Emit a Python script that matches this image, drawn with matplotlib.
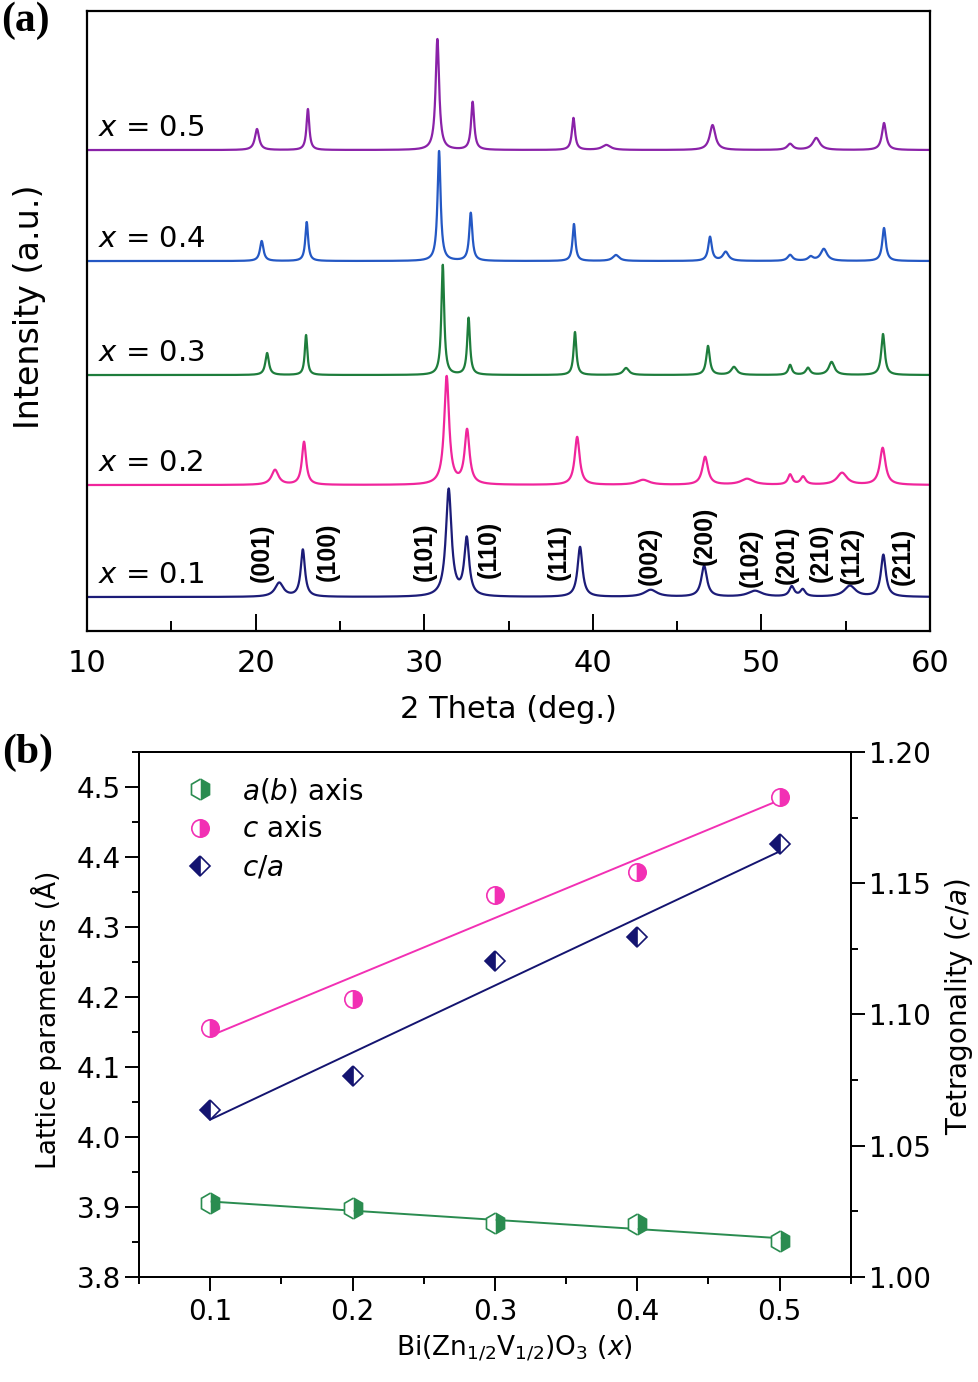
import numpy as np
import matplotlib.pyplot as plt
from matplotlib.ticker import MultipleLocator, FormatStrFormatter

plt.rcParams['font.family'] = 'DejaVu Sans'
plt.rcParams['mathtext.fontset'] = 'dejavusans'

# ---- (a) XRD peaks: 2theta, height (a.u.), FWHM (deg)
samples = ["0.1", "0.2", "0.3", "0.4", "0.5"]
offsets = [34, 146, 256, 370, 481]
colors_a = ["#1c1c78", "#f0259c", "#1e7d3c", "#2458c4", "#8a22a8"]

pos_01 = [21.4, 22.8, 31.45, 32.52, 39.24, 43.43, 46.6, 49.62, 51.8, 52.45, 55.25, 57.23]
hgt_01 = [14, 47, 107, 57, 50, 7, 31, 6, 10, 7, 11, 42]
wid_01 = [0.6, 0.3, 0.4, 0.35, 0.35, 0.9, 0.4, 1.0, 0.35, 0.35, 0.8, 0.35]

pos_02 = [21.15, 22.87, 31.33, 32.54, 39.07, 42.98, 46.66, 49.15, 51.7, 52.47, 54.78, 57.19]
hgt_02 = [15, 43, 108, 54, 48, 5, 28, 6, 10, 8, 12, 37]
wid_02 = [0.5, 0.3, 0.35, 0.35, 0.35, 0.9, 0.4, 0.9, 0.3, 0.35, 0.7, 0.4]

pos_03 = [20.68, 22.99, 31.1, 32.63, 38.94, 41.97, 46.83, 48.37, 51.7, 52.76, 54.16, 57.21]
hgt_03 = [22, 40, 110, 57, 43, 7, 29, 8, 10, 7, 13, 41]
wid_03 = [0.25, 0.18, 0.2, 0.2, 0.2, 0.4, 0.25, 0.4, 0.25, 0.3, 0.4, 0.25]

pos_04 = [20.36, 23.03, 30.88, 32.76, 38.88, 41.37, 46.95, 47.88, 51.7, 52.92, 53.7, 57.27]
hgt_04 = [20, 39, 110, 48, 37, 6, 24, 9, 6, 4, 12, 33]
wid_04 = [0.25, 0.2, 0.22, 0.22, 0.2, 0.45, 0.25, 0.4, 0.35, 0.35, 0.45, 0.25]

pos_05 = [20.08, 23.1, 30.78, 32.87, 38.85, 40.8, 47.1, 51.7, 53.25, 57.27]
hgt_05 = [21, 41, 111, 48, 32, 5, 25, 6, 12, 27]
wid_05 = [0.3, 0.2, 0.25, 0.22, 0.22, 0.6, 0.4, 0.4, 0.5, 0.3]

peaks = [(pos_01, hgt_01, wid_01), (pos_02, hgt_02, wid_02), (pos_03, hgt_03, wid_03),
         (pos_04, hgt_04, wid_04), (pos_05, hgt_05, wid_05)]

hkl = ["(001)", "(100)", "(101)", "(110)", "(111)", "(002)",
       "(200)", "(102)", "(201)", "(210)", "(112)", "(211)"]
hkl_x = [20.36, 24.3, 30.05, 33.85, 37.95, 43.4, 46.65, 49.37, 51.5, 53.5, 55.37, 58.38]
hkl_y = [78, 79, 79, 82, 79, 75, 95, 73, 76, 78, 76, 75]

# ---- (b) lattice parameters
comp = [0.1, 0.2, 0.3, 0.4, 0.5]
a_axis = [3.905, 3.899, 3.877, 3.876, 3.851]
c_axis = [4.156, 4.197, 4.346, 4.379, 4.486]
c_over_a = [1.0636, 1.0766, 1.1205, 1.1296, 1.1648]

green_b = "#2a8c50"
pink_b = "#f230b4"
navy_b = "#141470"

theta = np.linspace(10, 60, 6001)


def pattern(pos, hgt, wid):
    y = np.zeros_like(theta)
    for p, h, w in zip(pos, hgt, wid):
        y += h / (1 + ((theta - p) / (w / 2)) ** 2)
    return y


fig = plt.figure(figsize=(9.79, 13.82), dpi=100)

# panel (a)
ax1 = fig.add_axes([0.0889, 0.5434, 0.8611, 0.4486])
for lab, off, col, (p, h, w) in zip(samples, offsets, colors_a, peaks):
    ax1.plot(theta, off + pattern(p, h, w), color=col, lw=1.6)
    ax1.text(10.65, off + 14, "$x$ = " + lab, fontsize=21, va="baseline", ha="left")

for t, xx, yy in zip(hkl, hkl_x, hkl_y):
    ax1.text(xx, yy, t, rotation=90, ha="center", va="center",
             fontsize=18, fontweight="bold", family="Liberation Sans")

ax1.set_xlim(10, 60)
ax1.set_ylim(0, 620)
ax1.set_yticks([])
ax1.xaxis.set_major_locator(MultipleLocator(10))
ax1.xaxis.set_minor_locator(MultipleLocator(5))
ax1.tick_params(axis="x", which="major", direction="in", length=12, width=1.4,
                labelsize=22, pad=13)
ax1.tick_params(axis="x", which="minor", direction="in", length=7, width=1.4)
for s in ax1.spines.values():
    s.set_linewidth(1.6)
ax1.set_xlabel("2 Theta (deg.)", fontsize=22)
ax1.xaxis.set_label_coords(0.5, -0.104)
ax1.set_ylabel("Intensity (a.u.)", fontsize=24)
ax1.yaxis.set_label_coords(-0.049, 0.523)

# panel (b)
ax2 = fig.add_axes([0.142, 0.076, 0.727, 0.3799])
axr = ax2.twinx()

fa = np.polyfit(comp, a_axis, 1)
fc = np.polyfit(comp, c_axis, 1)
fr = np.polyfit(comp, c_over_a, 1)
xf = np.array([comp[0], comp[-1]])
ax2.plot(xf, np.polyval(fa, xf), color=green_b, lw=1.4, zorder=2)
ax2.plot(xf, np.polyval(fc, xf), color=pink_b, lw=1.4, zorder=2)
axr.plot(xf, np.polyval(fr, xf), color=navy_b, lw=1.4, zorder=2)

ha, = ax2.plot(comp, a_axis, ls="none", marker="h", ms=15, color=green_b,
               fillstyle="right", markerfacecoloralt="white", mew=1.2,
               zorder=3, label="$a$($b$) axis")
hc, = ax2.plot(comp, c_axis, ls="none", marker="o", ms=12.5, color=pink_b,
               fillstyle="right", markerfacecoloralt="white", mew=1.2,
               zorder=3, label="$c$ axis")
hr, = axr.plot(comp, c_over_a, ls="none", marker="D", ms=10, color=navy_b,
               fillstyle="left", markerfacecoloralt="white", mew=1.2,
               zorder=3, label="$c$/$a$")

ax2.set_xlim(0.05, 0.55)
ax2.set_ylim(3.8, 4.55)
axr.set_ylim(1.0, 1.2)
ax2.xaxis.set_major_locator(MultipleLocator(0.1))
ax2.xaxis.set_minor_locator(MultipleLocator(0.05))
ax2.yaxis.set_major_locator(MultipleLocator(0.1))
ax2.yaxis.set_minor_locator(MultipleLocator(0.05))
axr.yaxis.set_major_locator(MultipleLocator(0.05))
axr.yaxis.set_minor_locator(MultipleLocator(0.025))
ax2.xaxis.set_major_formatter(FormatStrFormatter("%.1f"))
ax2.yaxis.set_major_formatter(FormatStrFormatter("%.1f"))
axr.yaxis.set_major_formatter(FormatStrFormatter("%.2f"))

for a in (ax2, axr):
    a.tick_params(which="major", direction="out", length=10, width=1.4, labelsize=20, pad=3)
    a.tick_params(which="minor", direction="out", length=5, width=1.4)
    for s in a.spines.values():
        s.set_linewidth(1.4)
ax2.tick_params(axis="x", pad=5)

ax2.set_xlabel("Bi(Zn$_{1/2}$V$_{1/2}$)O$_3$ ($x$)", fontsize=19)
ax2.xaxis.set_label_coords(0.527, -0.108)
ax2.set_ylabel("Lattice parameters (Å)", fontsize=19)
ax2.yaxis.set_label_coords(-0.108, 0.49)
axr.set_ylabel("Tetragonality ($c$/$a$)", fontsize=20)
axr.yaxis.set_label_coords(1.129, 0.516)

axr.legend(handles=[ha, hc, hr], loc="upper left", bbox_to_anchor=(0.066, 0.954),
           frameon=False, fontsize=20, handlelength=1.0, handletextpad=1.0,
           labelspacing=0.37, borderpad=0, borderaxespad=0, numpoints=1)

fig.text(0.001, 0.999, "(a)", fontsize=30, fontweight="bold", family="Liberation Serif",
         ha="left", va="top")
fig.text(0.002, 1 - 734 / 1382, "(b)", fontsize=30, fontweight="bold",
         family="Liberation Serif", ha="left", va="top")

fig.savefig("out.png", dpi=100)
